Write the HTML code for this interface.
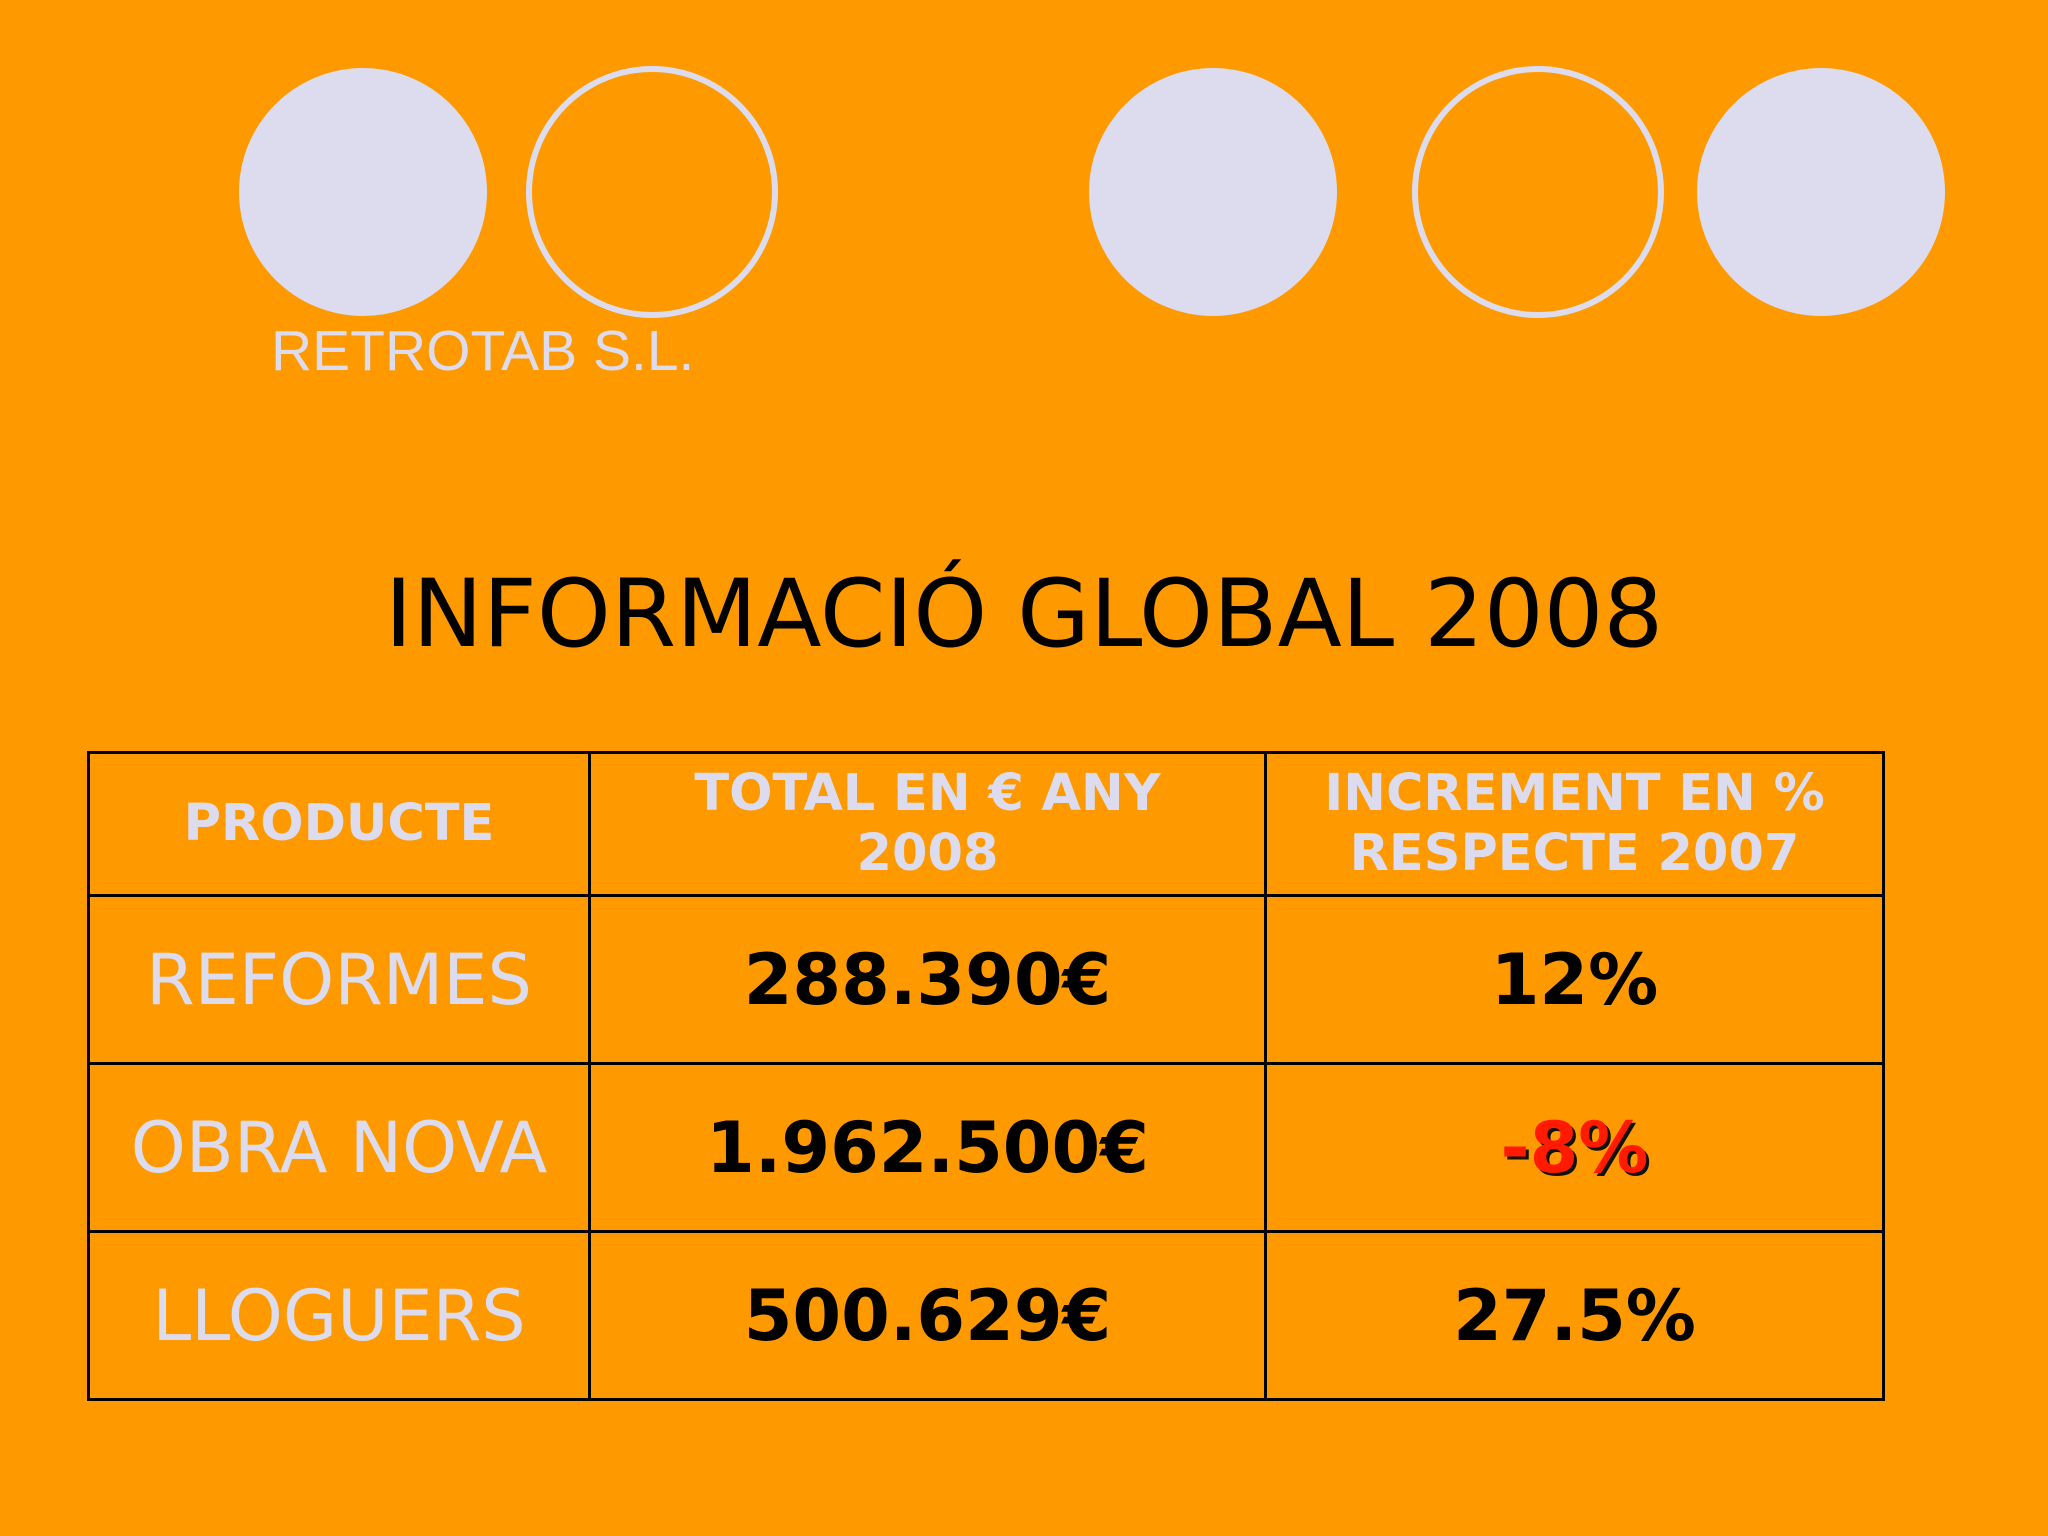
<!DOCTYPE html>
<html><head><meta charset="utf-8"><style>
body{margin:0;width:2048px;height:1536px;background:#FF9900;position:relative;overflow:hidden;font-family:"DejaVu Sans","Liberation Sans",sans-serif}
.c{position:absolute;border-radius:50%;box-sizing:border-box}
.f{background:#DCDCEE}
.o{border:6px solid #DCDCEE}
.cell{position:absolute;display:flex;align-items:center;justify-content:center;text-align:center;box-sizing:border-box}
.h{color:#DCDCEE;font-weight:bold;font-size:51px;line-height:60px}
.p{color:#DCDCEE;font-size:70px}
.v{color:#000;font-weight:bold;font-size:70px}
.ln{position:absolute;background:#000}
</style></head><body>
<div class="c f" style="left:239px;top:68px;width:248px;height:248px"></div>
<div class="c o" style="left:526px;top:66px;width:252px;height:252px"></div>
<div class="c f" style="left:1089px;top:68px;width:248px;height:248px"></div>
<div class="c o" style="left:1412px;top:66px;width:252px;height:252px"></div>
<div class="c f" style="left:1697px;top:68px;width:248px;height:248px"></div>
<div style="position:absolute;left:271px;top:318px;font-family:'Liberation Sans',sans-serif;font-size:57px;color:#DCDCEE">RETROTAB S.L.</div>
<div style="position:absolute;left:0;width:2048px;top:555px;text-align:center;font-size:94px;color:#000;line-height:120px">INFORMACIÓ GLOBAL 2008</div>

<div>
<div class="ln" style="left:88px;top:751px;width:1797px;height:3px"></div>
<div class="ln" style="left:88px;top:894px;width:1797px;height:3px"></div>
<div class="ln" style="left:88px;top:1062px;width:1797px;height:3px"></div>
<div class="ln" style="left:88px;top:1230px;width:1797px;height:3px"></div>
<div class="ln" style="left:88px;top:1398px;width:1797px;height:3px"></div>
<div class="ln" style="left:87px;top:751px;width:3px;height:650px"></div>
<div class="ln" style="left:588px;top:751px;width:3px;height:650px"></div>
<div class="ln" style="left:1264px;top:751px;width:3px;height:650px"></div>
<div class="ln" style="left:1882px;top:751px;width:3px;height:650px"></div>

<div class="cell h" style="left:90px;top:754px;width:498px;height:140px">PRODUCTE</div>
<div class="cell h" style="left:591px;top:754px;width:673px;height:140px">TOTAL EN € ANY<br>2008</div>
<div class="cell h" style="left:1267px;top:754px;width:615px;height:140px">INCREMENT EN %<br>RESPECTE 2007</div>

<div class="cell p" style="left:90px;top:897px;width:498px;height:165px">REFORMES</div>
<div class="cell v" style="left:591px;top:897px;width:673px;height:165px">288.390€</div>
<div class="cell v" style="left:1267px;top:897px;width:615px;height:165px">12%</div>

<div class="cell p" style="left:90px;top:1065px;width:498px;height:165px">OBRA NOVA</div>
<div class="cell v" style="left:591px;top:1065px;width:673px;height:165px">1.962.500€</div>
<div class="cell v" style="left:1267px;top:1065px;width:615px;height:165px;color:#FF1A00;text-shadow:3px 3px 0 #111">-8%</div>

<div class="cell p" style="left:90px;top:1233px;width:498px;height:165px">LLOGUERS</div>
<div class="cell v" style="left:591px;top:1233px;width:673px;height:165px">500.629€</div>
<div class="cell v" style="left:1267px;top:1233px;width:615px;height:165px">27.5%</div>
</div>
</body></html>
